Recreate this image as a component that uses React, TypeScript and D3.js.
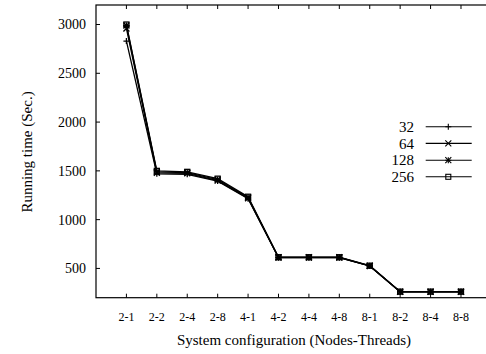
import React from "react";
import * as d3 from "d3";

const categories = ["2-1", "2-2", "2-4", "2-8", "4-1", "4-2", "4-4", "4-8", "8-1", "8-2", "8-4", "8-8"];
const seriesNames = ["32", "64", "128", "256"];
const s32 = [2830, 1470, 1465, 1395, 1215, 610, 610, 610, 525, 260, 260, 260];
const s64 = [2960, 1480, 1475, 1400, 1220, 612, 612, 612, 525, 260, 260, 260];
const s128 = [2990, 1490, 1482, 1410, 1228, 614, 614, 614, 527, 262, 262, 262];
const s256 = [3000, 1500, 1490, 1420, 1235, 615, 615, 615, 528, 262, 262, 262];
const yTicks = [500, 1000, 1500, 2000, 2500, 3000];

const W = 486, H = 354;
const L = 96, R = 491.4, T = 5, B = 297.7;

function Marker({ kind, x, y }: { kind: number; x: number; y: number }) {
  const s = 3;
  const plus = <path d={`M${x - s},${y}H${x + s}M${x},${y - s}V${y + s}`} />;
  const cross = <path d={`M${x - s},${y - s}L${x + s},${y + s}M${x - s},${y + s}L${x + s},${y - s}`} />;
  if (kind === 0) return plus;
  if (kind === 1) return cross;
  if (kind === 2) return <g>{plus}{cross}</g>;
  const q = 2.5;
  return <rect x={x - q} y={y - q} width={2 * q} height={2 * q} fill="none" />;
}

export default function App() {
  const x = d3.scaleLinear().domain([-1, 12]).range([L, R]);
  const y = d3.scaleLinear().domain([200, 3200]).range([B, T]);
  const data = [s32, s64, s128, s256];
  const line = d3.line<number>().x((_, i) => x(i)).y((v) => y(v));
  const font = "'Liberation Serif', 'Times New Roman', serif";
  const legendY = [126.8, 143.4, 160.2, 176.8];
  return (
    <svg width={W} height={H} style={{ position: "absolute", left: 0, top: 0, background: "white" }} fontFamily={font}>
      <rect x={0} y={0} width={W} height={H} fill="white" />
      <g stroke="black" strokeWidth={1}>
        {yTicks.map((t) => (
          <path key={t} d={`M${L},${y(t)}h4`} />
        ))}
        {categories.map((c, i) => (
          <path key={c} d={`M${x(i)},${B}v-4M${x(i)},${T}v4`} />
        ))}
      </g>
      <rect x={L} y={T} width={R - L} height={B - T} fill="none" stroke="black" strokeWidth={1.2} />
      {yTicks.map((t) => (
        <text key={t} x={86} y={y(t)} dy="0.35em" textAnchor="end" fontSize={14}>{t}</text>
      ))}
      {categories.map((c, i) => (
        <text key={c} x={x(i)} y={317} dy="0.35em" textAnchor="middle" fontSize={12}>{c}</text>
      ))}
      <text x={(L + 486) / 2 + 3} y={340} dy="0.35em" textAnchor="middle" fontSize={15}>System configuration (Nodes-Threads)</text>
      <text transform={`translate(27,152) rotate(-90)`} textAnchor="middle" dy="0.35em" fontSize={15}>Running time (Sec.)</text>
      {data.map((d, k) => (
        <g key={k} stroke="black" strokeWidth={1.3} fill="none">
          <path d={line(d) || ""} />
          {d.map((v, i) => (
            <Marker key={i} kind={k} x={x(i)} y={y(v)} />
          ))}
        </g>
      ))}
      {seriesNames.map((n, k) => (
        <g key={n}>
          <text x={414} y={legendY[k]} dy="0.35em" textAnchor="end" fontSize={15}>{n}</text>
          <g stroke="black" strokeWidth={1.1} fill="none">
            <path d={`M425.7,${legendY[k]}H471.7`} />
            <Marker kind={k} x={448.3} y={legendY[k]} />
          </g>
        </g>
      ))}
    </svg>
  );
}
